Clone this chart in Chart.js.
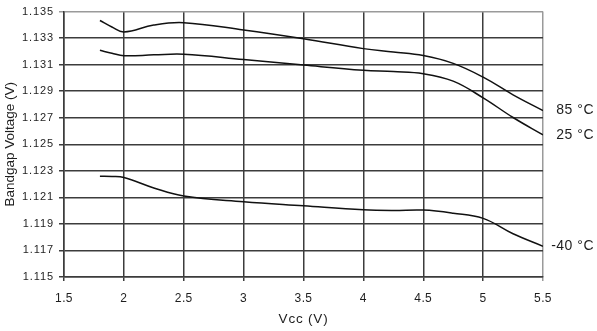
<!DOCTYPE html>
<html>
<head>
<meta charset="utf-8">
<script src="https://cdn.jsdelivr.net/npm/chart.js@4.4.1/dist/chart.umd.min.js"></script>
<style>
  body { margin: 0; background: #fff; }
  #wrap { width: 597px; height: 331px; position: relative; }
</style>
</head>
<body>
<div id="wrap"><canvas id="bgChart"></canvas></div>
<script>
// supply voltage (V)
var vcc = [1.8, 1.9, 2.0, 2.25, 2.5, 3.0, 3.5, 4.0, 4.25, 4.5, 4.75, 5.0, 5.25, 5.5];

// bandgap voltage (V) per temperature
var vbg85 = [1.13433, 1.13384, 1.13347, 1.13399, 1.13416, 1.13361, 1.13295, 1.13221, 1.13196, 1.13169, 1.13110, 1.13006, 1.12873, 1.12754];
var vbg25 = [1.13208, 1.13186, 1.13167, 1.13174, 1.13179, 1.13139, 1.13097, 1.13058, 1.13048, 1.13032, 1.12976, 1.12850, 1.12702, 1.12571];
var vbgM40 = [1.12260, 1.12258, 1.12250, 1.12171, 1.12110, 1.12067, 1.12036, 1.12006, 1.12001, 1.12004, 1.11981, 1.11942, 1.11826, 1.11732];

var seriesLabels = ['85 °C', '25 °C', '-40 °C'];

var yMin = 1.115, yMax = 1.135, yStep = 0.002;
var xMin = 1.5, xMax = 5.5, xStep = 0.5;

var FONT = "'Liberation Sans', Arial, sans-serif";
var INK = '#1e1e1e';
var GRID = '#3c3c3c';
var EDGE = '#9a9a9a';

function pts(ys) {
    return vcc.map(function (x, i) { return {x: x, y: ys[i]}; });
}

function line(label, ys) {
    return {
        label: label,
        data: pts(ys),
        borderColor: '#111',
        borderWidth: 1.5,
        pointRadius: 0,
        fill: false,
        tension: 0.4
    };
}

// wider text: letter spacing on tick labels and axis titles
function spaced(fn, amount) {
    return function () {
        var c = this.ctx;
        c.save();
        c.letterSpacing = amount(this);
        fn.apply(this, arguments);
        c.restore();
    };
}
var textSpacing = {
    id: 'textSpacing',
    afterLayout: function (chart) {
        Object.keys(chart.scales).forEach(function (k) {
            var s = chart.scales[k];
            if (s._spaced) return;
            s._spaced = true;
            s.drawLabels = spaced(s.drawLabels, function (sc) { return sc.isHorizontal() ? '0.4px' : '0.9px'; });
            s.drawTitle = spaced(s.drawTitle, function (sc) { return sc.isHorizontal() ? '0.8px' : '0px'; });
        });
    }
};

// text at the right end of each curve
var endLabels = {
    id: 'endLabels',
    afterDatasetsDraw: function (chart) {
        var ctx = chart.ctx;
        ctx.save();
        ctx.font = '14px ' + FONT;
        ctx.letterSpacing = '0.5px';
        ctx.fillStyle = INK;
        ctx.textAlign = 'right';
        ctx.textBaseline = 'middle';
        chart.data.datasets.forEach(function (ds) {
            var last = ds.data[ds.data.length - 1];
            ctx.fillText(ds.label, 594, chart.scales.y.getPixelForValue(last.y));
        });
        ctx.restore();
    }
};

var ctx = document.getElementById('bgChart').getContext('2d');
new Chart(ctx, {
    type: 'line',
    data: {
        datasets: [
            line(seriesLabels[0], vbg85),
            line(seriesLabels[1], vbg25),
            line(seriesLabels[2], vbgM40)
        ]
    },
    options: {
        responsive: true,
        maintainAspectRatio: false,
        animation: false,
        layout: {padding: {top: 7, right: 54, left: 0, bottom: 0}},
        plugins: {legend: {display: false}, tooltip: {enabled: false}},
        scales: {
            x: {
                type: 'linear',
                min: xMin, max: xMax,
                afterFit: function (s) { s.height = 54; },
                ticks: {
                    stepSize: xStep,
                    padding: 10,
                    color: INK,
                    font: {family: FONT, size: 12},
                    callback: function (v) { return String(Number(v.toFixed(1))); }
                },
                grid: {
                    color: function (c) { return c.index === 8 ? EDGE : GRID; },
                    lineWidth: 1.5,
                    tickLength: 4
                },
                border: {color: GRID, width: 1.5},
                title: {
                    display: true, text: 'Vcc (V)', color: INK,
                    font: {family: FONT, size: 13.5},
                    padding: {top: 4, bottom: 4}
                }
            },
            y: {
                min: yMin, max: yMax,
                afterFit: function (s) { s.width = 64; },
                ticks: {
                    stepSize: yStep,
                    padding: 5,
                    color: INK,
                    font: {family: FONT, size: 11},
                    callback: function (v) { return v.toFixed(3); }
                },
                grid: {
                    color: function (c) { return c.index === 10 ? EDGE : GRID; },
                    lineWidth: 1.5,
                    tickLength: 5
                },
                border: {color: GRID, width: 1.5},
                title: {
                    display: true, text: 'Bandgap Voltage (V)', color: INK,
                    font: {family: FONT, size: 13.5},
                    padding: {top: 2, bottom: 2}
                }
            }
        }
    },
    plugins: [textSpacing, endLabels]
});
</script>
</body>
</html>
